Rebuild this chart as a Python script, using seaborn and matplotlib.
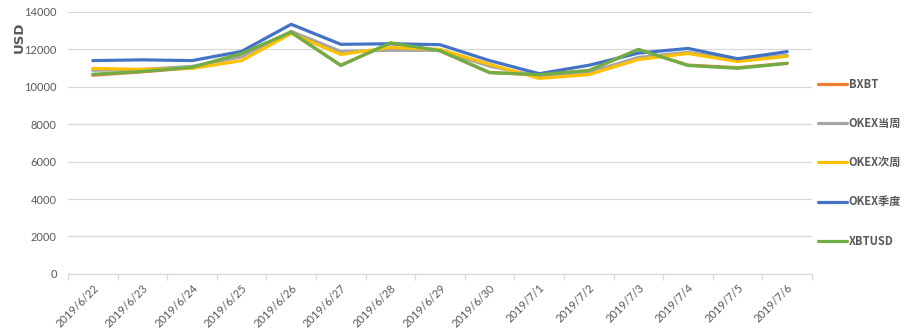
import matplotlib
matplotlib.use("Agg")
import matplotlib.pyplot as plt
from matplotlib.ticker import FixedLocator, NullFormatter
import seaborn as sns
import pandas as pd

dates = ["2019/6/22", "2019/6/23", "2019/6/24", "2019/6/25", "2019/6/26",
         "2019/6/27", "2019/6/28", "2019/6/29", "2019/6/30", "2019/7/1",
         "2019/7/2", "2019/7/3", "2019/7/4", "2019/7/5", "2019/7/6"]

bxbt = [10620, 10800, 11020, 11760, 12900, 11150, 12330, 11920, 10760, 10640,
        10860, 11990, 11160, 11020, 11260]
okex_week = [10880, 10930, 11090, 11600, 12960, 11890, 11950, 11950, 11100, 10560,
             10770, 11570, 11840, 11410, 11680]
okex_next = [10980, 10930, 10980, 11400, 12850, 11730, 12100, 12000, 11200, 10450,
             10650, 11460, 11780, 11350, 11630]
okex_quarter = [11400, 11440, 11400, 11890, 13340, 12270, 12300, 12250, 11400, 10700,
                11150, 11800, 12050, 11500, 11880]
xbtusd = [10670, 10820, 11040, 11780, 12920, 11140, 12350, 11930, 10760, 10650,
          10870, 12000, 11140, 10990, 11250]

series_names = ["BXBT", "OKEX当周", "OKEX次周", "OKEX季度", "XBTUSD"]
series_values = [bxbt, okex_week, okex_next, okex_quarter, xbtusd]
colors = ["#ED7D31", "#A5A5A5", "#FFC000", "#4472C4", "#70AD47"]

y_ticks = [0, 2000, 4000, 6000, 8000, 10000, 12000, 14000]

rows = []
for name, vals in zip(series_names, series_values):
    for i, v in enumerate(vals):
        rows.append({"pos": i, "value": v, "series": name})
df = pd.DataFrame(rows)

sns.set_theme(style="white")
plt.rcParams["font.family"] = ["Lato", "Noto Sans CJK SC", "DejaVu Sans"]

fig = plt.figure(figsize=(9.1, 3.32), dpi=100)
ax = fig.add_axes([0.0747, 0.175, 0.8176, 0.789])

sns.lineplot(data=df, x="pos", y="value", hue="series", hue_order=series_names,
             palette=colors, linewidth=2.3, ax=ax, legend=False, sort=False)

ax.set_xlim(-0.5, len(dates) - 0.5)
ax.set_ylim(0, 14000)
ax.set_yticks(y_ticks)
ax.set_yticklabels([str(t) for t in y_ticks], fontsize=8, color="#595959")
ax.yaxis.grid(True, color="#D9D9D9", linewidth=0.9)
ax.set_axisbelow(True)

ax.set_xticks(range(len(dates)))
ax.set_xticklabels(dates, rotation=45, ha="right", rotation_mode="anchor",
                   fontsize=8, color="#595959")
ax.xaxis.set_minor_locator(FixedLocator([i - 0.5 for i in range(len(dates) + 1)]))
ax.xaxis.set_minor_formatter(NullFormatter())
ax.tick_params(axis="x", which="major", length=0, pad=6)
ax.tick_params(axis="x", which="minor", length=4, color="#D9D9D9", width=0.9,
               direction="out", bottom=True)
ax.tick_params(axis="y", length=0, pad=8)

for side in ["top", "right", "left"]:
    ax.spines[side].set_visible(False)
ax.spines["bottom"].set_color("#D9D9D9")
ax.spines["bottom"].set_linewidth(0.9)

ax.set_xlabel("")
ax.set_ylabel("")
fig.text(0.021, 0.889, "USD", rotation=90, ha="center", va="center",
         fontsize=9.5, fontweight="bold", color="#595959",
         family=["DejaVu Sans"])

handles = [plt.Line2D([], [], color=c, linewidth=2.3) for c in colors]
leg = fig.legend(handles, series_names, loc="upper left",
                 bbox_to_anchor=(0.888, 0.795), frameon=False,
                 handlelength=2.6, handletextpad=0.15, labelspacing=2.35,
                 prop={"family": ["Noto Sans CJK SC"], "weight": "bold", "size": 8})
for t in leg.get_texts():
    t.set_color("#595959")

fig.savefig("out.png", dpi=100)
